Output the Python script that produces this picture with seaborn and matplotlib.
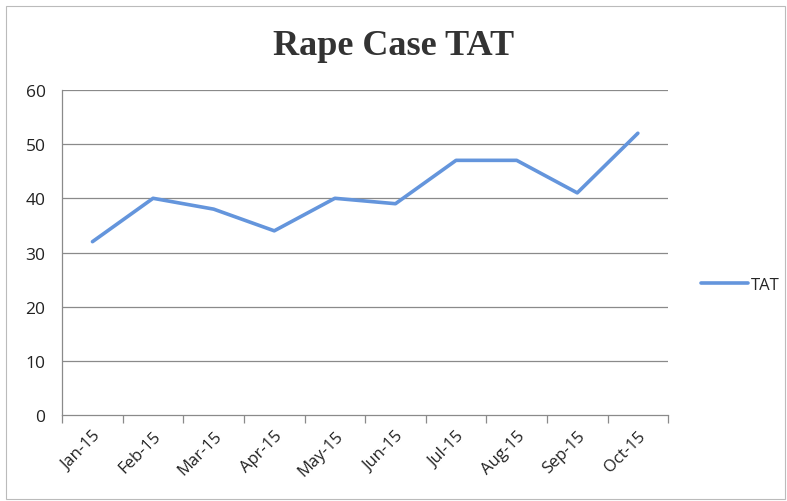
import numpy as np
import pandas as pd
import matplotlib
import seaborn as sns

matplotlib.use("Agg")
from matplotlib import pyplot as plt
from matplotlib.patches import Rectangle

months = ["Jan-15", "Feb-15", "Mar-15", "Apr-15", "May-15",
          "Jun-15", "Jul-15", "Aug-15", "Sep-15", "Oct-15"]
tat = [32, 40, 38, 34, 40, 39, 47, 47, 41, 52]
y_ticks = [0, 10, 20, 30, 40, 50, 60]

df = pd.DataFrame({"month": months, "TAT": tat})

sns.set_style("white")
plt.rcParams["font.family"] = ["Open Sans", "DejaVu Sans"]

fig = plt.figure(figsize=(7.87, 5.02), dpi=100)
ax = fig.add_axes([0.079, 0.171, 0.770, 0.648])

for y in y_ticks[1:]:
    ax.axhline(y, color="#8a8a8a", linewidth=0.9, zorder=0)

sns.lineplot(data=df, x="month", y="TAT", ax=ax, color="#6495dc",
             linewidth=2.6, label="TAT", sort=False)

ax.set_xlim(-0.5, len(months) - 0.5)
ax.set_ylim(0, 60)
ax.set_yticks(y_ticks)
ax.set_xticks(range(len(months)))
ax.set_xticklabels(months, rotation=45, ha="right", rotation_mode="anchor")
ax.set_xticks(np.arange(-0.5, len(months)), minor=True)
ax.tick_params(axis="x", which="major", bottom=False, length=0, pad=9,
               labelsize=12, colors="#222222")
ax.tick_params(axis="x", which="minor", bottom=True, length=6, width=0.9,
               color="#8a8a8a", direction="out")
ax.tick_params(axis="y", length=0, pad=12, labelsize=12.5, colors="#222222")
ax.set_xlabel("")
ax.set_ylabel("")

for side in ["top", "right"]:
    ax.spines[side].set_visible(False)
for side in ["left", "bottom"]:
    ax.spines[side].set_color("#8a8a8a")
    ax.spines[side].set_linewidth(0.9)

ax.legend(loc="center left", bbox_to_anchor=(1.03, 0.4), frameon=False,
          fontsize=12, handlelength=2.8, handletextpad=0.15)

fig.text(0.5, 0.907, "Rape Case TAT", ha="center", va="center",
         fontsize=26, fontweight="bold", family="Liberation Serif", color="#333333")

fig.patches.append(Rectangle((0.007, 0.004), 0.99, 0.982, transform=fig.transFigure,
                             fill=False, edgecolor="#bbbbbb", linewidth=0.8))

fig.savefig("out.png", dpi=100)
plt.close(fig)
